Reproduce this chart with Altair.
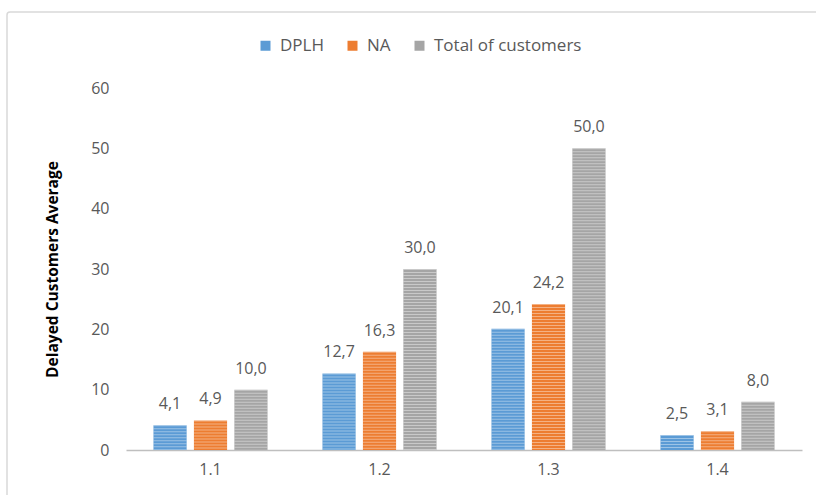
import altair as alt
import pandas as pd

# Delayed customers average per group, three series each
groups = ["1.1", "1.2", "1.3", "1.4"]
dplh = [4.1, 12.7, 20.1, 2.5]
na = [4.9, 16.3, 24.2, 3.1]
total = [10.0, 30.0, 50.0, 8.0]

series_names = ["DPLH", "NA", "Total of customers"]
series_colors = ["#5b9bd5", "#ed7d31", "#a5a5a5"]
y_ticks = [0, 10, 20, 30, 40, 50, 60]

rows = []
for name, vals in zip(series_names, [dplh, na, total]):
    for g, v in zip(groups, vals):
        rows.append({"group": g, "series": name, "value": v})
df = pd.DataFrame(rows)

FONT = "Open Sans"
TXT = "#595959"

base = alt.Chart(df).encode(
    x=alt.X(
        "group:N",
        sort=groups,
        scale=alt.Scale(paddingInner=0.325, paddingOuter=0.1625),
        axis=alt.Axis(
            title=None, labelAngle=0, ticks=False, domainColor="#bfbfbf",
            domainWidth=1.5, labelColor=TXT, labelFontSize=16, labelFont=FONT,
            labelPadding=11,
        ),
    ),
    xOffset=alt.XOffset(
        "series:N", sort=series_names,
        scale=alt.Scale(paddingInner=0.18, paddingOuter=0),
    ),
)

bars = base.mark_bar().encode(
    y=alt.Y(
        "value:Q",
        scale=alt.Scale(domain=[0, 60]),
        axis=alt.Axis(
            values=y_ticks, title="Delayed Customers Average", grid=False,
            domain=False, ticks=False, labelColor=TXT, labelFontSize=16,
            labelFont=FONT, labelPadding=17, titleFont=FONT, titleFontSize=15.5,
            titleFontWeight="bold", titleColor="#000000", titlePadding=30,
        ),
    ),
    color=alt.Color(
        "series:N", sort=series_names,
        scale=alt.Scale(domain=series_names, range=series_colors),
        legend=alt.Legend(
            title=None, orient="none", direction="horizontal",
            legendX=131, legendY=-51, symbolType="square", symbolSize=100,
            symbolStrokeWidth=0, labelFont=FONT, labelFontSize=17,
            labelColor=TXT, columnPadding=20, labelOffset=6,
            labelExpr="datum.label == 'DPLH' ? '\u2002\u2002DPLH' : datum.label",
        ),
    ),
)

# horizontal light stripes across each bar
stripes = base.mark_rule(
    color="white", strokeWidth=33, strokeDash=[1, 2], opacity=0.4, strokeCap="butt"
).encode(
    y="value:Q",
    y2=alt.datum(0),
)

labels = base.mark_text(
    baseline="alphabetic", dy=-16, fontSize=16, font=FONT, color=TXT
).transform_calculate(
    label="replace(format(datum.value, '.1f'), '.', ',')"
).encode(
    y="value:Q",
    text="label:N",
)

frame = alt.Chart(pd.DataFrame({"k": [0]})).mark_rect(
    fill=None, stroke="#d9d9d9", strokeWidth=1.5, cornerRadius=3
).encode(
    x=alt.value(-119), x2=alt.value(720), y=alt.value(-76), y2=alt.value(430)
)

chart = alt.layer(frame, bars, stripes, labels).properties(
    width=676,
    height=362,
    autosize=alt.AutoSizeParams(type="none"),
    padding={"left": 126, "top": 88, "right": 14, "bottom": 45},
).configure_view(stroke=None)

chart.save("out.html", embed_options={"renderer": "svg", "actions": False})
